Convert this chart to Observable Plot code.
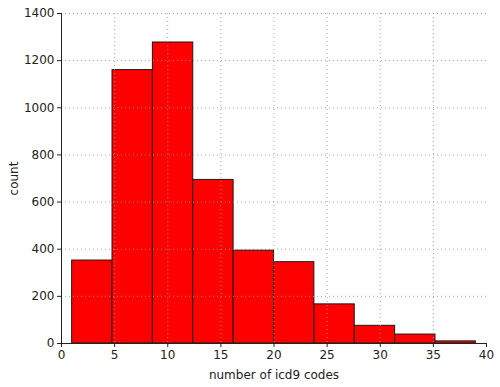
<!DOCTYPE html>
<html>
<head>
<meta charset="utf-8">
<script src="https://cdn.jsdelivr.net/npm/d3@7"></script>
<script src="https://cdn.jsdelivr.net/npm/@observablehq/plot@0.6"></script>
<style>
  html, body { margin: 0; padding: 0; background: #fff; }
  #chart { width: 500px; height: 387px; }
</style>
</head>
<body>
<div id="chart"></div>
<script>
// Histogram bin edges (number of icd9 codes)
const binStarts = [1.0, 4.8, 8.6, 12.4, 16.2, 20.0, 23.8, 27.6, 31.4, 35.2];
const binEnds   = [4.8, 8.6, 12.4, 16.2, 20.0, 23.8, 27.6, 31.4, 35.2, 39.0];
// Counts per bin
const counts = [352, 1160, 1277, 694, 394, 345, 166, 75, 38, 9];
// Tick labels
const xTicks = [0, 5, 10, 15, 20, 25, 30, 35, 40];
const yTicks = [0, 200, 400, 600, 800, 1000, 1200, 1400];
const xGrid = [5, 10, 15, 20, 25, 30, 35];
const yGrid = [200, 400, 600, 800, 1000, 1200, 1400];

const bins = counts.map((c, i) => ({x1: binStarts[i], x2: binEnds[i], count: c}));

const chart = Plot.plot({
  width: 500,
  height: 387,
  marginLeft: 61,
  marginRight: 14,
  marginTop: 13,
  marginBottom: 44,
  style: {fontFamily: "DejaVu Sans, sans-serif", fontSize: "12px", color: "#222", background: "#fff"},
  x: {domain: [0, 40]},
  y: {domain: [0, 1400]},
  marks: [
    Plot.rectY(bins, {x1: "x1", x2: "x2", y1: 0, y2: "count", fill: "#ff0000", stroke: "#1a1a1a", strokeWidth: 1}),
    Plot.gridX(xGrid, {stroke: "#999", strokeOpacity: 0.9, strokeDasharray: "1,3"}),
    Plot.gridY(yGrid, {stroke: "#999", strokeOpacity: 0.9, strokeDasharray: "1,3"}),
    Plot.ruleX([0], {stroke: "#222", strokeWidth: 1}),
    Plot.ruleY([0], {stroke: "#222", strokeWidth: 1}),
    Plot.axisX(xTicks, {tickSize: 4, tickPadding: 3, stroke: "#222", tickFormat: d => String(d), label: "number of icd9 codes", labelAnchor: "center", labelOffset: 35, labelArrow: "none", fontSize: 12}),
    Plot.axisY(yTicks, {tickSize: 4, tickPadding: 3, stroke: "#222", tickFormat: d => String(d), label: "count", labelAnchor: "center", labelOffset: 52, labelArrow: "none", fontSize: 12})
  ]
});
document.getElementById("chart").appendChild(chart);
</script>
</body>
</html>
